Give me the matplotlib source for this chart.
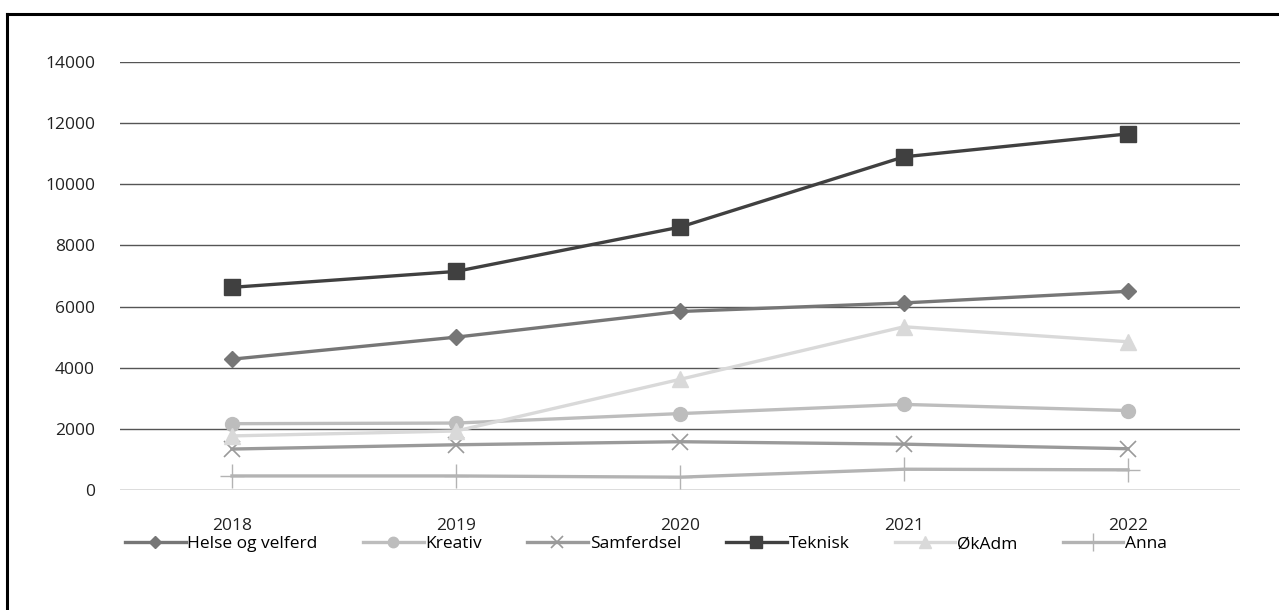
import numpy as np
import matplotlib.pyplot as plt
from matplotlib.lines import Line2D

plt.rcParams['font.family'] = ['Open Sans', 'DejaVu Sans']

years = ['2018', '2019', '2020', '2021', '2022']
helse = [4280, 5000, 5840, 6120, 6500]
kreativ = [2170, 2190, 2500, 2800, 2600]
samferdsel = [1340, 1480, 1580, 1500, 1350]
teknisk = [6630, 7150, 8600, 10900, 11650]
okadm = [1770, 1930, 3620, 5340, 4850]
anna = [460, 460, 420, 680, 660]

fig = plt.figure(figsize=(12.79, 6.10), dpi=100)
ax = fig.add_axes([0.0938, 0.1967, 0.8757, 0.7016])

x = np.arange(len(years))
ax.plot(x, helse, color='#767676', lw=2.4, marker='D', ms=8, label='Helse og velferd')
ax.plot(x, kreativ, color='#bdbdbd', lw=2.4, marker='o', ms=10, label='Kreativ')
ax.plot(x, samferdsel, color='#9a9a9a', lw=2.4, marker='x', ms=11, mew=1.2, label='Samferdsel')
ax.plot(x, teknisk, color='#404040', lw=2.4, marker='s', ms=11, label='Teknisk')
ax.plot(x, okadm, color='#d9d9d9', lw=2.4, marker='^', ms=11, label='ØkAdm')
ax.plot(x, anna, color='#b3b3b3', lw=2.4, marker='+', ms=17, mew=1.0, label='Anna')

ax.set_xlim(-0.5, 4.5)
ax.set_ylim(0, 14000)
ax.set_yticks(np.arange(0, 14001, 2000))
ax.set_xticks(x)
ax.set_xticklabels(years)
ax.tick_params(length=0, labelsize=12.5, colors='#222222', pad=20)
ax.tick_params(axis='y', pad=18)
ax.grid(axis='y', color='#555555', lw=1.0)
ax.set_axisbelow(True)
for s in ax.spines.values():
    s.set_visible(False)

fig.legend(loc='center', bbox_to_anchor=(0.505, 0.108), ncol=6, frameon=False,
           fontsize=12.5, handlelength=3.5, columnspacing=2.6, handletextpad=0.1,
           markerscale=0.75)

# outer frame (left and top edges visible)
fig.add_artist(Line2D([0.0055, 0.0055], [-0.1, 0.977], color='black', lw=2.2, transform=fig.transFigure))
fig.add_artist(Line2D([0.0055, 1.1], [0.977, 0.977], color='black', lw=2.2, transform=fig.transFigure))

fig.savefig('out.png', dpi=100)
